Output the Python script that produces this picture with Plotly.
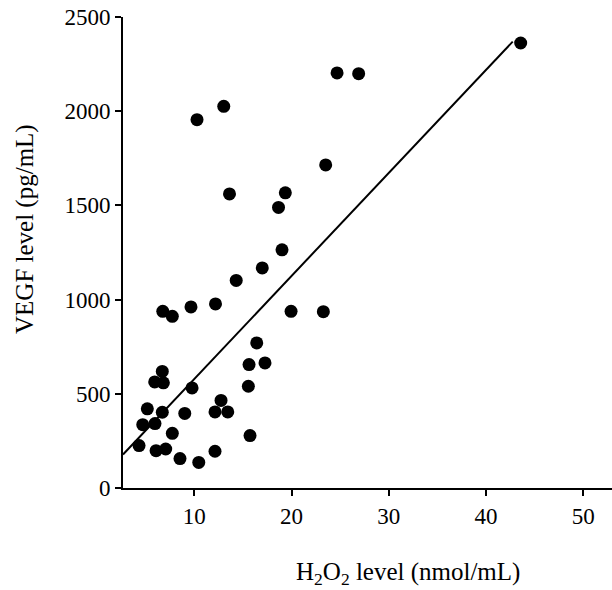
import plotly.graph_objects as go

# H2O2 level (nmol/mL)
h2o2 = [4.32, 4.70, 5.17, 5.93, 6.71, 6.82, 5.96, 6.71, 6.07, 7.06, 7.74, 8.53,
        9.77, 9.02, 10.46, 12.13, 12.13, 12.75, 13.44, 15.56, 15.63, 17.27, 16.42,
        15.73, 6.76, 7.74, 9.66, 12.18, 14.31, 16.99, 19.02, 19.95, 23.27, 18.66,
        19.36, 13.62, 23.51, 10.28, 13.03, 24.68, 26.90, 43.56]
# VEGF level (pg/mL)
vegf = [225, 336, 420, 563, 619, 558, 342, 402, 198, 207, 290, 156,
        531, 396, 136, 195, 404, 465, 404, 540, 655, 664, 770,
        278, 938, 911, 961, 977, 1102, 1168, 1264, 938, 936, 1489,
        1567, 1561, 1715, 1955, 2026, 2203, 2199, 2362]

# regression line endpoints
fit_x = [2.67, 42.74]
fit_y = [178, 2369]

x_ticks = [10, 20, 30, 40, 50]
y_ticks = [0, 500, 1000, 1500, 2000, 2500]

FONT = "Liberation Serif"
TICK_SIZE = 23
TITLE_SIZE = 25

fig = go.Figure()
fig.add_trace(go.Scatter(x=fit_x, y=fit_y, mode="lines",
                         line=dict(color="black", width=2), hoverinfo="skip"))
fig.add_trace(go.Scatter(x=h2o2, y=vegf, mode="markers",
                         marker=dict(color="black", size=13, line=dict(width=0))))

fig.update_layout(
    width=612, height=590,
    margin=dict(l=123, r=0, t=17, b=102),
    paper_bgcolor="white", plot_bgcolor="white",
    showlegend=False,
    font=dict(family=FONT, size=TICK_SIZE, color="black"),
    xaxis=dict(range=[2.67, 52.95], tickvals=x_ticks, ticks="outside", ticklen=6,
               tickwidth=2, tickcolor="black", showline=True, linecolor="black",
               linewidth=2, showgrid=False, zeroline=False,
               tickfont=dict(family=FONT, size=TICK_SIZE)),
    yaxis=dict(range=[0, 2500], tickvals=y_ticks, ticks="outside", ticklen=6,
               tickwidth=2, tickcolor="black", showline=True, linecolor="black",
               linewidth=2, showgrid=False, zeroline=False,
               tickfont=dict(family=FONT, size=TICK_SIZE)),
    annotations=[
        dict(text="H<sub>2</sub>O<sub>2</sub> level (nmol/mL)", xref="paper", yref="paper",
             x=(408 - 123) / 489, y=(590 - 573 - 102) / 471, xanchor="center", yanchor="middle",
             showarrow=False, font=dict(family=FONT, size=TITLE_SIZE)),
        dict(text="VEGF level (pg/mL)", xref="paper", yref="paper",
             x=(25 - 123) / 489, y=(488 - 229) / 471, xanchor="center", yanchor="middle",
             textangle=-90, showarrow=False, font=dict(family=FONT, size=TITLE_SIZE)),
    ],
)

fig.write_html("out.html", config={"displayModeBar": False})

# remove default page margin so the figure sits at the window origin
with open("out.html", "r", encoding="utf-8") as f:
    html = f.read()
html = html.replace("<head>", "<head><style>html,body{margin:0;padding:0;overflow:hidden;}</style>", 1)
with open("out.html", "w", encoding="utf-8") as f:
    f.write(html)
